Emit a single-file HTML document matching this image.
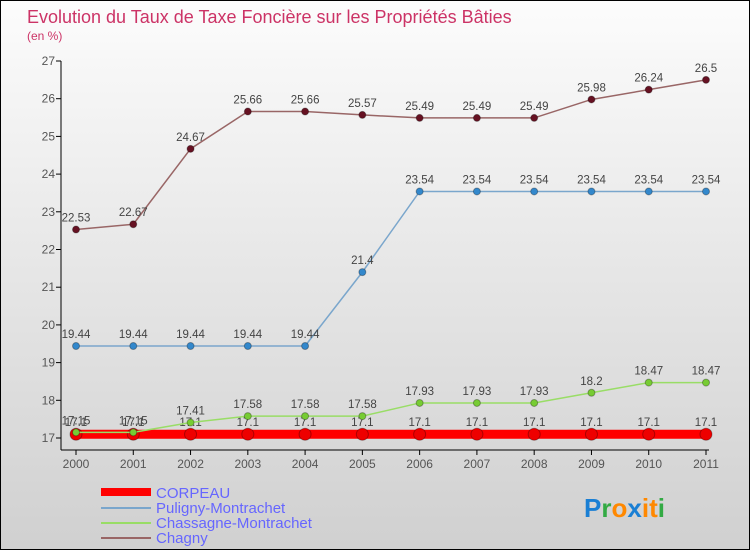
<!DOCTYPE html>
<html><head><meta charset="utf-8"><style>
body{margin:0}
#c{position:relative;width:748px;height:548px;border:1px solid #000;background:linear-gradient(#fcfcfc,#d0d0d0);overflow:hidden;font-family:"Liberation Sans",sans-serif}
</style></head><body>
<div id="c">
<svg id="s" width="748" height="548" xmlns="http://www.w3.org/2000/svg">
<text x="26" y="22" font-size="18" fill="#cc3366">Evolution du Taux de Taxe Foncière sur les Propriétés Bâties</text>
<text x="26" y="39" font-size="12" fill="#cc3366">(en %)</text>
<line x1="60" y1="60" x2="60" y2="449" stroke="#000"/>
<line x1="60" y1="449" x2="708" y2="449" stroke="#000"/>
<g id="g"></g>
<g>
<rect x="100" y="487" width="50" height="8" fill="#f00"/>
<text x="155" y="497" font-size="15" fill="#6666ff">CORPEAU</text>
<rect x="100" y="506" width="50" height="2" fill="#7aa6cc"/>
<text x="155" y="512" font-size="15" fill="#6666ff">Puligny-Montrachet</text>
<rect x="100" y="521" width="50" height="2" fill="#99dd66"/>
<text x="155" y="527" font-size="15" fill="#6666ff">Chassagne-Montrachet</text>
<rect x="100" y="536" width="50" height="2" fill="#996666"/>
<text x="155" y="542" font-size="15" fill="#6666ff">Chagny</text>
</g>
<g font-size="26" font-weight="bold">
<text x="583" y="516"><tspan fill="#1a7fd4">P</tspan><tspan fill="#33aa44">r</tspan><tspan fill="#ff8800">o</tspan><tspan fill="#1a7fd4">x</tspan><tspan fill="#ff8800">i</tspan><tspan fill="#ff8800">t</tspan><tspan fill="#33aa44">i</tspan></text>
</g>
</svg>
</div>
<script>
const years=[2000,2001,2002,2003,2004,2005,2006,2007,2008,2009,2010,2011];
const corpeau=[17.1,17.1,17.1,17.1,17.1,17.1,17.1,17.1,17.1,17.1,17.1,17.1];
const puligny=[19.44,19.44,19.44,19.44,19.44,21.4,23.54,23.54,23.54,23.54,23.54,23.54];
const chassagne=[17.15,17.15,17.41,17.58,17.58,17.58,17.93,17.93,17.93,18.2,18.47,18.47];
const chagny=[22.53,22.67,24.67,25.66,25.66,25.57,25.49,25.49,25.49,25.98,26.24,26.5];
const yTicks=[17,18,19,20,21,22,23,24,25,26,27];
const NS="http://www.w3.org/2000/svg";
const g=document.getElementById('g');
function xs(i){return 75+i*(705-75)/(years.length-1);}
function ys(v){return 437-(v-17)*(437-60)/10;}
function mk(t,a){const e=document.createElementNS(NS,t);for(const k in a)e.setAttribute(k,a[k]);g.appendChild(e);return e;}
yTicks.forEach(v=>{
 const l=mk('line',{x1:55,x2:60,y1:ys(v),y2:ys(v),stroke:'#000'});
 
 
 const t=mk('text',{x:54,y:ys(v)+4,'font-size':12,fill:'#555','text-anchor':'end'});
 t.textContent=v;
 
 
});
years.forEach((y,i)=>{
 const l=mk('line',{x1:xs(i),x2:xs(i),y1:449,y2:454,stroke:'#000'});
 
 
 const t=mk('text',{x:xs(i),y:467,'font-size':12,fill:'#555','text-anchor':'middle'});
 t.textContent=y;
 
 
});
function series(vals,name,color,dot,lw,r){
 const p=mk('polyline',{points:vals.map((v,i)=>xs(i)+','+ys(v)).join(' '),fill:'none',stroke:color,'stroke-width':lw});
 
 
 vals.forEach((v,i)=>{
  const c=mk('circle',{cx:xs(i),cy:ys(v),r:r,fill:dot,stroke:'rgba(0,0,0,0.3)','stroke-width':1});
  
  
  const t=mk('text',{x:xs(i),y:ys(v)-8,'font-size':11.5,fill:'#444','text-anchor':'middle'});
  t.textContent=v;
  
  
 });
}
series(corpeau,'corpeau','#f00','#ee0000',9,6);
series(puligny,'puligny','#7aa6cc','#3388cc',1.5,3.5);
series(chassagne,'chassagne','#99dd66','#77cc33',1.5,3.5);
series(chagny,'chagny','#996666','#661122',1.5,3.5);
</script>
</body></html>
